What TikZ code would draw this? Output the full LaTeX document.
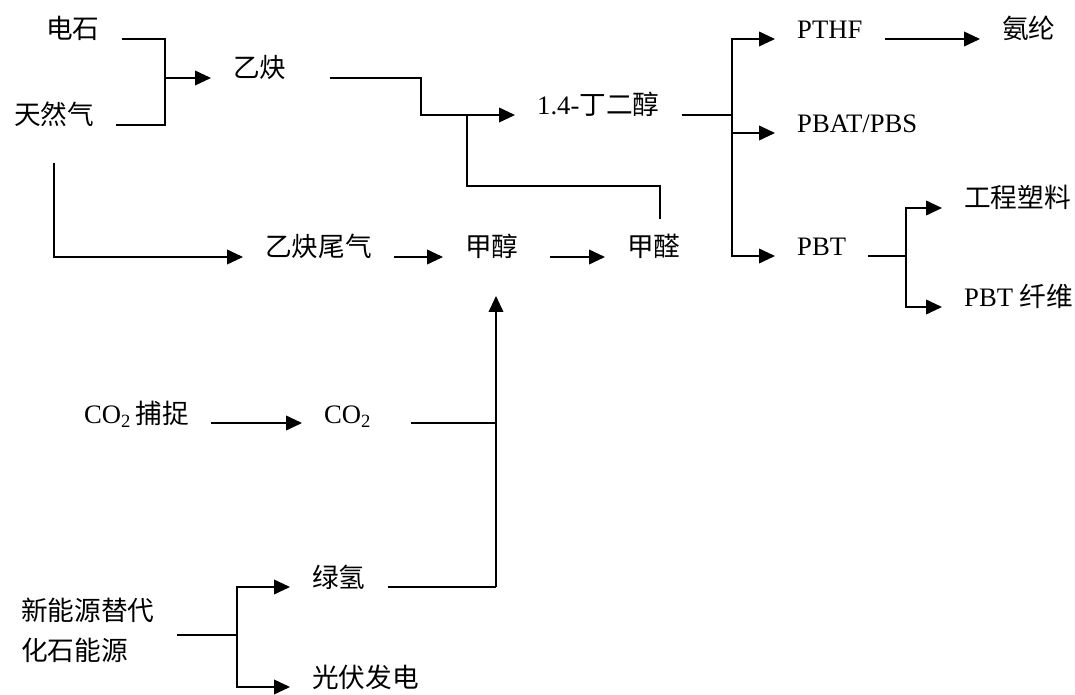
\documentclass[tikz,border=0pt]{standalone}
\usepackage{fontspec}
\setmainfont{Liberation Serif}
\newfontfamily\cjk{Noto Sans CJK SC}
\usetikzlibrary{arrows.meta}

\begin{document}
\begin{tikzpicture}[x=0.75pt,y=-0.75pt,>={Triangle[length=12pt,width=11pt]},line width=1.3pt,font=\fontsize{20pt}{30pt}\selectfont]
\useasboundingbox (0,0) rectangle (1075,695);
\tikzstyle{t}=[anchor=base west,inner xsep=16pt,inner ysep=2pt]
\node[t] (dianshi) at (24,39) {\cjk 电石};
\node[t] (trq) at (-8,125) {\cjk 天然气};
\node[t] (yique) at (211,78) {\cjk 乙炔};
\node[t] (bdo) at (515,115) {1.4-{\cjk 丁二醇}};
\node[t] (pthf) at (775,39) {PTHF};
\node[t] (anlun) at (980,39) {\cjk 氨纶};
\node[t] (pbat) at (775,133) {PBAT/PBS};
\node[t] (pbt) at (775,256) {PBT};
\node[t] (gcsl) at (942,208) {\cjk 工程塑料};
\node[t] (pbtxw) at (942,307) {PBT {\cjk 纤维}};
\node[t] (yqwq) at (243,257) {\cjk 乙炔尾气};
\node[t] (jiachun) at (443,257) {\cjk 甲醇};
\node[t] (jiaquan) at (605,257) {\cjk 甲醛};
\node[t] (co2bz) at (62,423) {CO\textsubscript{2}\,{\cjk 捕捉}};
\node[t] (co2) at (302,423) {CO\textsubscript{2}};
\node[t] (lvqing) at (290,587) {\cjk 绿氢};
\node[t] (gfdd) at (290,687) {\cjk 光伏发电};
\node[t,anchor=west,align=left,font={\fontsize{20pt}{30pt}\selectfont\cjk}] (xny) at (-1,630) {新能源替代\\化石能源};
\coordinate (j1) at (165,78); \coordinate (j2) at (421,115); \coordinate (j3) at (467,115); \coordinate (j4) at (467,186);
\coordinate (j5) at (732,115); \coordinate (j6) at (906,256); \coordinate (j7) at (496,423); \coordinate (j8) at (496,587);
\coordinate (j9) at (237,635);
\draw (dianshi.base east) -| (j1); \draw (trq.base east) -| (j1); \draw[->] (j1) -- (yique.base west);
\draw[->] ([shift={(21,0)}]yique.base east) -| (j2) -- (bdo.base west);
\draw ([shift={(6,-12)}]jiaquan.north) |- (j4) -- (j3);
\draw[->,shorten <=24pt] (trq.south) |- (yqwq.base west);
\draw[->] (yqwq.base east) -- (jiachun.base west);
\draw[->] ([shift={(9,0)}]jiachun.base east) -- (jiaquan.base west);
\draw (bdo.base east) -- (j5);
\draw[->] (j5) |- (pthf.base west); \draw[->] (j5 |- pbat.base west) -- (pbat.base west); \draw[->] (j5) |- (pbt.base west);
\draw[->] (pthf.base east) -- (anlun.base west);
\draw (pbt.base east) -- (j6); \draw[->] (j6) |- (gcsl.base west); \draw[->] (j6) |- (pbtxw.base west);
\draw[->] (co2bz.base east) -- (co2.base west);
\draw ([shift={(18,0)}]co2.base east) -- (j7);
\draw (lvqing.base east) -- (j8);
\draw[->,shorten >=25pt] (j8) -- (j8 |- jiachun.south);
\draw ([shift={(0,5)}]xny.east) -- (j9); \draw[->] (j9) |- (lvqing.base west); \draw[->] (j9) |- (gfdd.base west);
\end{tikzpicture}
\end{document}
